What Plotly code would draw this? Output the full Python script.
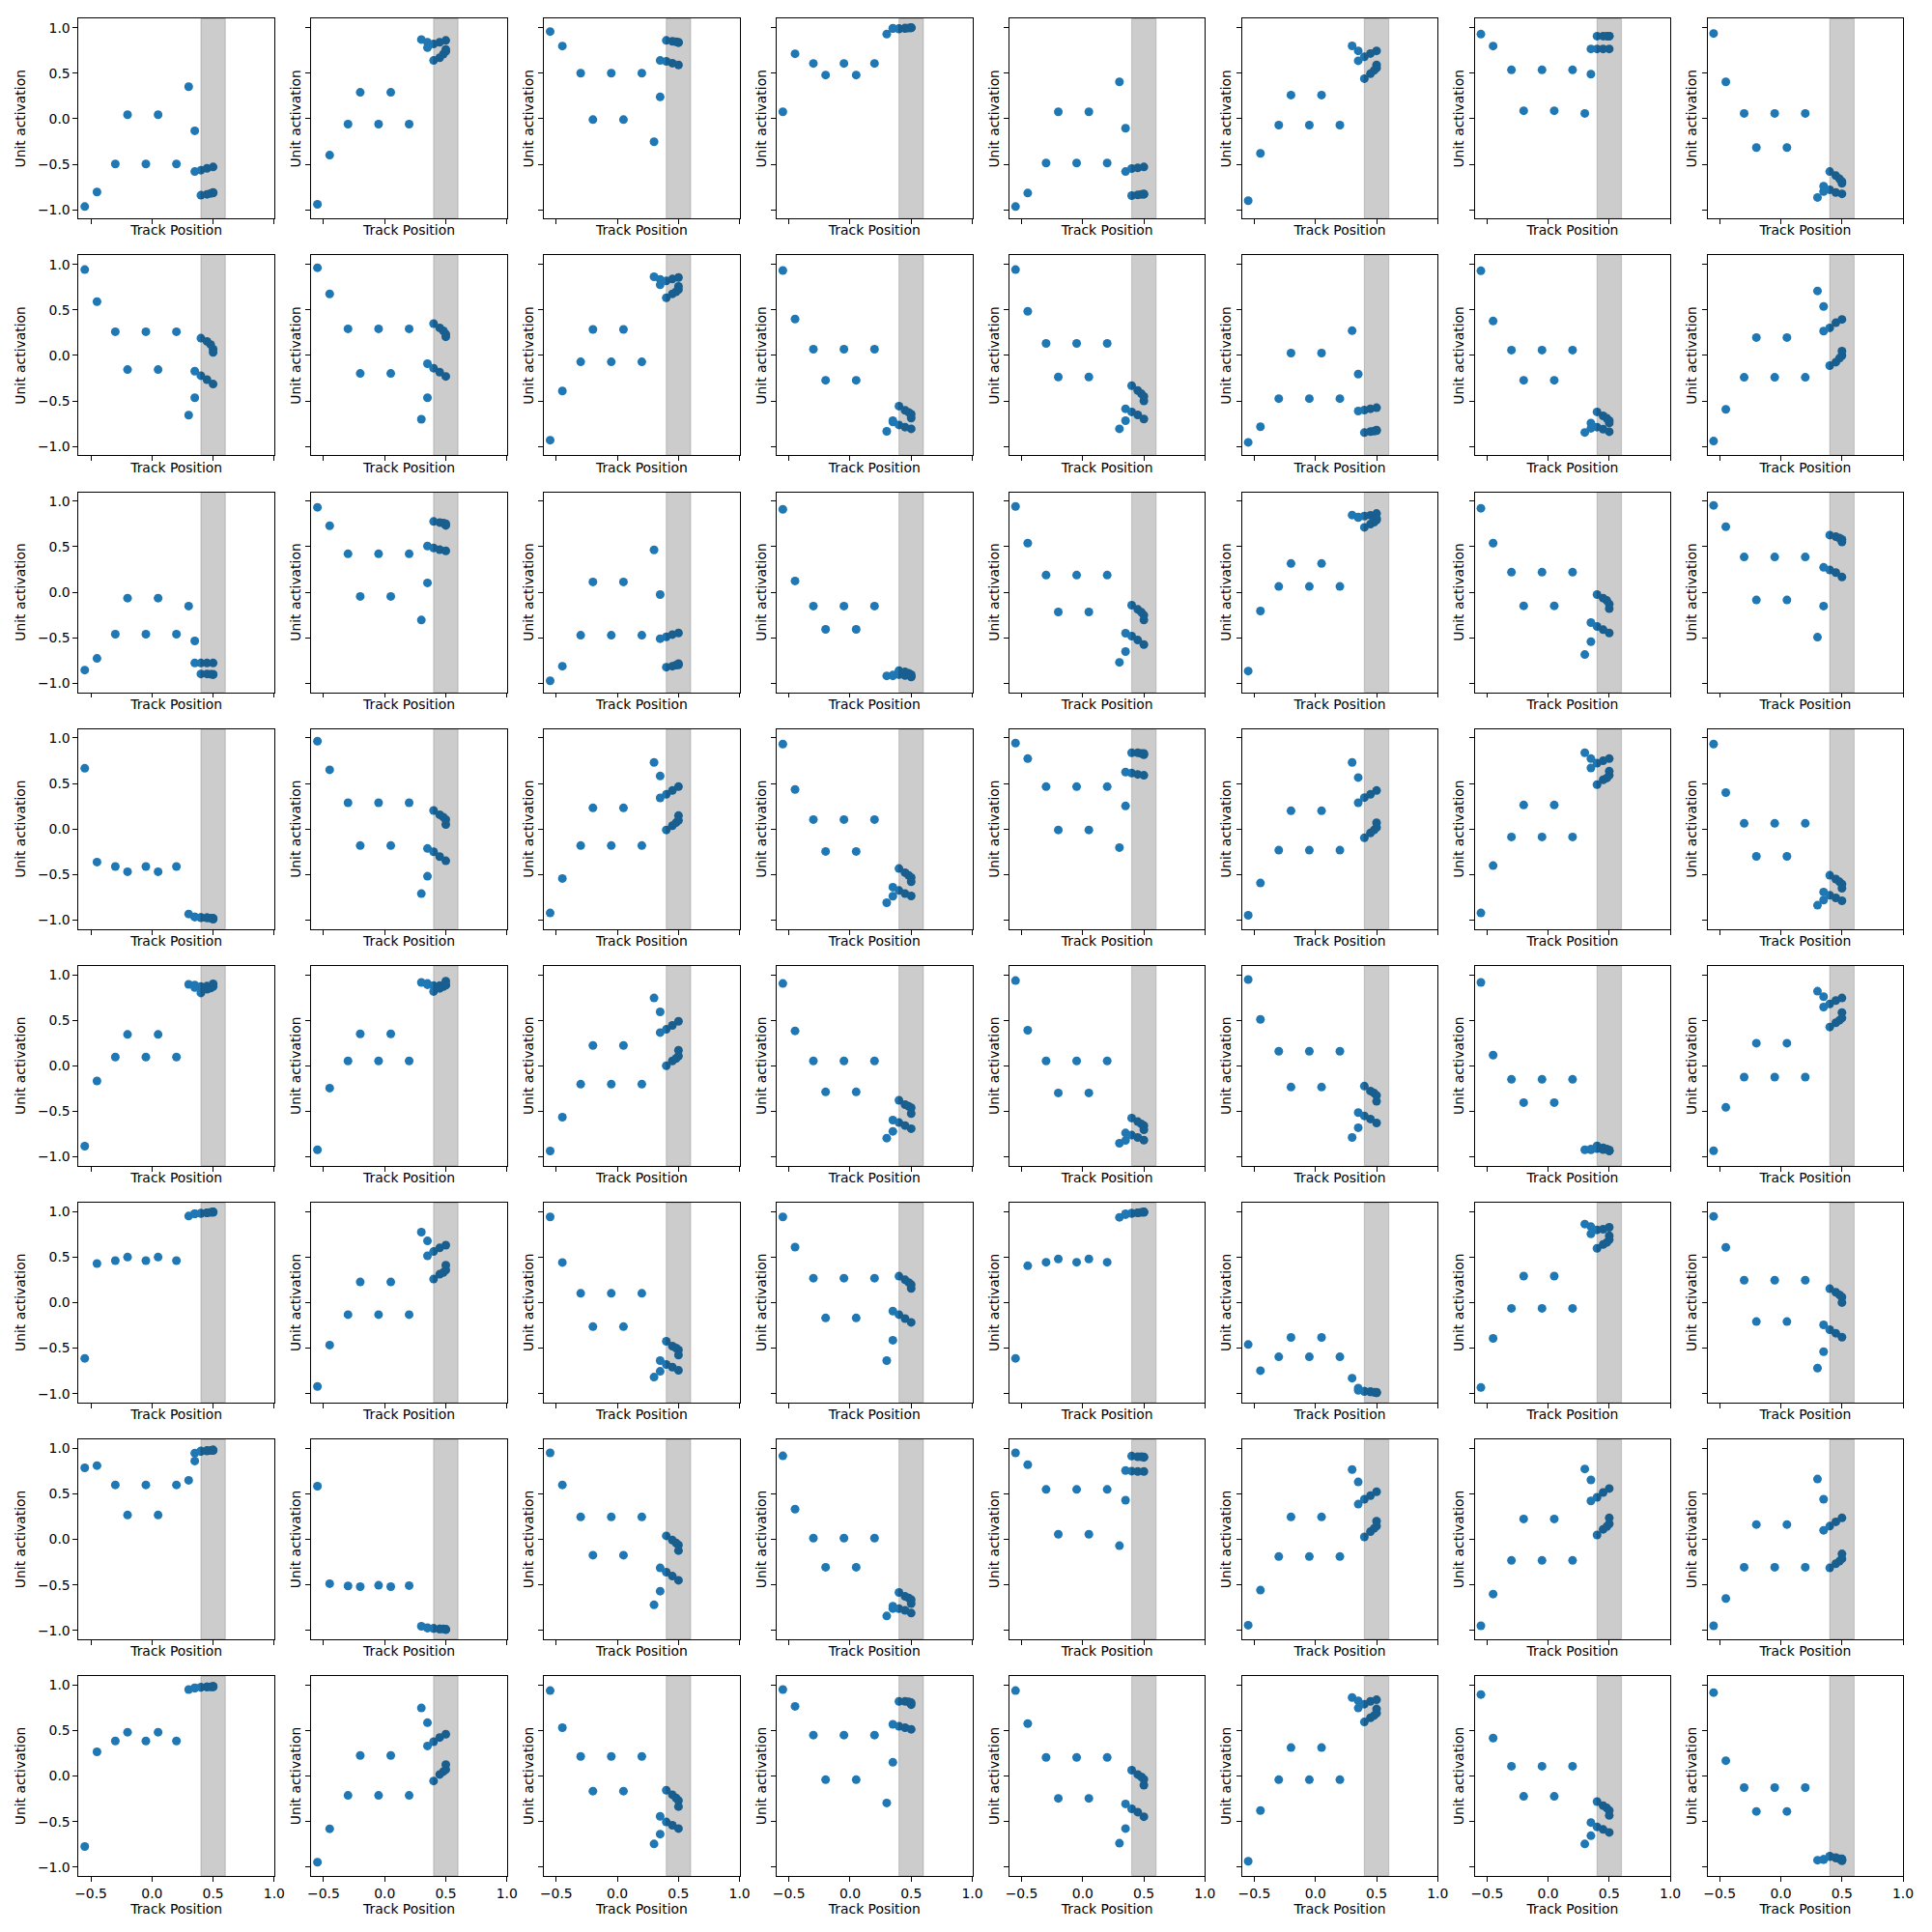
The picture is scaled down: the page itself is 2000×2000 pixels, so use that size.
import plotly.graph_objects as go

# ---------------- data ----------------
track_position = [-0.55, -0.45, -0.30, -0.20, -0.05, 0.05, 0.20, 0.30, 0.35,
                  0.35, 0.40, 0.45, 0.50, 0.40, 0.45, 0.48, 0.50, 0.50]
x_ticks = [-0.5, 0.0, 0.5, 1.0]
x_tick_labels = ["\u22120.5", "0.0", "0.5", "1.0"]
y_ticks = [-1.0, -0.5, 0.0, 0.5, 1.0]
y_tick_labels = ["\u22121.0", "\u22120.5", "0.0", "0.5", "1.0"]
target_zone = [0.4, 0.6]

unit_00 = [-0.965, -0.805, -0.497, 0.044, -0.497, 0.044, -0.497, 0.352, -0.133, -0.58, -0.565, -0.545, -0.53, -0.84, -0.83, -0.82, -0.815, -0.81]
unit_01 = [-0.94, -0.40, -0.06, 0.29, -0.06, 0.29, -0.06, 0.87, 0.84, 0.78, 0.82, 0.84, 0.86, 0.64, 0.67, 0.71, 0.74, 0.76]
unit_02 = [0.957, 0.798, 0.50, -0.01, 0.50, -0.01, 0.50, -0.253, 0.239, 0.64, 0.63, 0.61, 0.59, 0.86, 0.85, 0.845, 0.84, 0.835]
unit_03 = [0.076, 0.713, 0.607, 0.48, 0.607, 0.48, 0.607, 0.929, 0.993, 0.99, 0.99, 0.995, 1.0, 0.985, 0.99, 0.995, 1.0, 0.998]
unit_04 = [-0.965, -0.816, -0.487, 0.076, -0.487, 0.076, -0.487, 0.405, -0.104, -0.58, -0.547, -0.54, -0.53, -0.844, -0.837, -0.83, -0.83, -0.826]
unit_05 = [-0.90, -0.38, -0.07, 0.26, -0.07, 0.26, -0.07, 0.80, 0.745, 0.636, 0.68, 0.716, 0.745, 0.44, 0.494, 0.53, 0.557, 0.59]
unit_06 = [0.929, 0.798, 0.536, 0.087, 0.536, 0.087, 0.536, 0.058, 0.49, 0.766, 0.766, 0.766, 0.766, 0.907, 0.907, 0.907, 0.907, 0.907]
unit_07 = [0.936, 0.405, 0.058, -0.317, 0.058, -0.317, 0.058, -0.865, -0.74, -0.80, -0.78, -0.81, -0.825, -0.58, -0.625, -0.66, -0.69, -0.71]

unit_10 = [0.943, 0.591, 0.261, -0.155, 0.261, -0.155, 0.261, -0.655, -0.464, -0.172, -0.222, -0.265, -0.314, 0.19, 0.155, 0.12, 0.07, 0.035]
unit_11 = [0.964, 0.676, 0.293, -0.197, 0.293, -0.197, 0.293, -0.70, -0.464, -0.09, -0.14, -0.183, -0.23, 0.35, 0.303, 0.27, 0.235, 0.205]
unit_12 = [-0.93, -0.39, -0.07, 0.286, -0.07, 0.286, -0.07, 0.865, 0.836, 0.776, 0.82, 0.84, 0.857, 0.634, 0.677, 0.70, 0.723, 0.758]
unit_13 = [0.933, 0.40, 0.069, -0.272, 0.069, -0.272, 0.069, -0.833, -0.716, -0.73, -0.763, -0.787, -0.805, -0.556, -0.602, -0.625, -0.645, -0.687]
unit_14 = [0.943, 0.485, 0.133, -0.236, 0.133, -0.236, 0.133, -0.805, -0.716, -0.585, -0.62, -0.652, -0.698, -0.332, -0.385, -0.42, -0.45, -0.499]
unit_15 = [-0.954, -0.783, -0.474, 0.027, -0.474, 0.027, -0.474, 0.272, -0.204, -0.61, -0.60, -0.585, -0.574, -0.847, -0.836, -0.83, -0.826, -0.82]
unit_16 = [0.93, 0.378, 0.059, -0.272, 0.059, -0.272, 0.059, -0.845, -0.742, -0.80, -0.787, -0.81, -0.837, -0.62, -0.663, -0.69, -0.716, -0.742]
unit_17 = [-0.94, -0.592, -0.24, 0.197, -0.24, 0.197, -0.24, 0.709, 0.538, 0.268, 0.303, 0.36, 0.396, -0.112, -0.073, -0.03, 0.0, 0.048]

unit_20 = [-0.855, -0.727, -0.461, -0.064, -0.461, -0.064, -0.461, -0.152, -0.535, -0.777, -0.777, -0.777, -0.777, -0.897, -0.897, -0.90, -0.90, -0.905]
unit_21 = [0.933, 0.73, 0.422, -0.046, 0.422, -0.046, 0.422, -0.305, 0.103, 0.507, 0.486, 0.468, 0.454, 0.777, 0.766, 0.76, 0.752, 0.734]
unit_22 = [-0.972, -0.812, -0.472, 0.113, -0.472, 0.113, -0.472, 0.465, -0.025, -0.51, -0.49, -0.465, -0.447, -0.823, -0.812, -0.80, -0.798, -0.784]
unit_23 = [0.911, 0.124, -0.152, -0.408, -0.152, -0.408, -0.152, -0.918, -0.918, -0.91, -0.905, -0.915, -0.925, -0.86, -0.875, -0.89, -0.905, -0.93]
unit_24 = [0.943, 0.539, 0.188, -0.216, 0.188, -0.216, 0.188, -0.77, -0.652, -0.45, -0.482, -0.525, -0.574, -0.142, -0.188, -0.22, -0.252, -0.305]
unit_25 = [-0.865, -0.206, 0.064, 0.316, 0.064, 0.316, 0.064, 0.848, 0.826, 0.82, 0.836, 0.845, 0.865, 0.713, 0.748, 0.77, 0.794, 0.81]
unit_26 = [0.922, 0.539, 0.22, -0.149, 0.22, -0.149, 0.22, -0.684, -0.543, -0.333, -0.376, -0.411, -0.447, -0.025, -0.064, -0.09, -0.13, -0.18]
unit_27 = [0.954, 0.72, 0.387, -0.085, 0.387, -0.085, 0.387, -0.493, -0.152, 0.273, 0.245, 0.216, 0.167, 0.628, 0.61, 0.595, 0.58, 0.553]

unit_30 = [0.667, -0.363, -0.412, -0.469, -0.412, -0.469, -0.412, -0.933, -0.965, -0.965, -0.97, -0.975, -0.98, -0.975, -0.975, -0.98, -0.985, -0.99]
unit_31 = [0.965, 0.65, 0.288, -0.182, 0.288, -0.182, 0.288, -0.71, -0.519, -0.214, -0.25, -0.303, -0.349, 0.204, 0.157, 0.13, 0.104, 0.05]
unit_32 = [-0.922, -0.543, -0.182, 0.232, -0.182, 0.232, -0.182, 0.731, 0.582, 0.342, 0.38, 0.423, 0.465, -0.01, 0.037, 0.07, 0.094, 0.147]
unit_33 = [0.933, 0.434, 0.104, -0.246, 0.104, -0.246, 0.104, -0.809, -0.738, -0.639, -0.675, -0.71, -0.735, -0.434, -0.48, -0.51, -0.533, -0.579]
unit_34 = [0.943, 0.773, 0.465, -0.01, 0.465, -0.01, 0.465, -0.204, 0.253, 0.625, 0.614, 0.60, 0.59, 0.837, 0.837, 0.83, 0.83, 0.816]
unit_35 = [-0.947, -0.593, -0.232, 0.2, -0.232, 0.2, -0.232, 0.731, 0.565, 0.288, 0.345, 0.38, 0.423, -0.097, -0.044, -0.01, 0.016, 0.069]
unit_36 = [-0.922, -0.402, -0.087, 0.264, -0.087, 0.264, -0.087, 0.837, 0.773, 0.67, 0.724, 0.749, 0.773, 0.487, 0.54, 0.56, 0.59, 0.635]
unit_37 = [0.933, 0.40, 0.062, -0.3, 0.062, -0.3, 0.062, -0.837, -0.78, -0.692, -0.727, -0.756, -0.788, -0.508, -0.55, -0.58, -0.604, -0.65]

unit_40 = [-0.883, -0.167, 0.096, 0.344, 0.096, 0.344, 0.096, 0.894, 0.887, 0.86, 0.87, 0.875, 0.885, 0.80, 0.84, 0.855, 0.87, 0.90]
unit_41 = [-0.922, -0.245, 0.053, 0.351, 0.053, 0.351, 0.053, 0.915, 0.904, 0.89, 0.88, 0.88, 0.885, 0.816, 0.85, 0.87, 0.887, 0.93]
unit_42 = [-0.936, -0.564, -0.202, 0.223, -0.202, 0.223, -0.202, 0.745, 0.592, 0.365, 0.40, 0.443, 0.489, 0.0, 0.053, 0.08, 0.106, 0.17]
unit_43 = [0.904, 0.383, 0.053, -0.287, 0.053, -0.287, 0.053, -0.794, -0.72, -0.596, -0.624, -0.656, -0.691, -0.379, -0.426, -0.445, -0.461, -0.525]
unit_44 = [0.936, 0.39, 0.053, -0.298, 0.053, -0.298, 0.053, -0.851, -0.82, -0.738, -0.762, -0.787, -0.816, -0.574, -0.613, -0.64, -0.656, -0.702]
unit_45 = [0.947, 0.51, 0.16, -0.234, 0.16, -0.234, 0.16, -0.787, -0.68, -0.514, -0.55, -0.585, -0.628, -0.223, -0.277, -0.30, -0.326, -0.39]
unit_46 = [0.915, 0.117, -0.149, -0.404, -0.149, -0.404, -0.149, -0.922, -0.922, -0.915, -0.91, -0.92, -0.935, -0.88, -0.90, -0.915, -0.925, -0.935]
unit_47 = [-0.933, -0.457, -0.124, 0.248, -0.124, 0.248, -0.124, 0.819, 0.759, 0.645, 0.68, 0.716, 0.745, 0.426, 0.472, 0.50, 0.525, 0.585]

unit_50 = [-0.613, 0.428, 0.46, 0.499, 0.46, 0.499, 0.46, 0.95, 0.975, 0.975, 0.98, 0.985, 0.99, 0.98, 0.985, 0.99, 0.995, 0.995]
unit_51 = [-0.922, -0.467, -0.133, 0.226, -0.133, 0.226, -0.133, 0.773, 0.677, 0.513, 0.56, 0.60, 0.63, 0.258, 0.311, 0.33, 0.357, 0.41]
unit_52 = [0.94, 0.44, 0.101, -0.265, 0.101, -0.265, 0.101, -0.819, -0.755, -0.638, -0.68, -0.709, -0.745, -0.425, -0.478, -0.50, -0.52, -0.577]
unit_53 = [0.94, 0.609, 0.268, -0.169, 0.268, -0.169, 0.268, -0.638, -0.414, -0.094, -0.133, -0.176, -0.218, 0.29, 0.25, 0.22, 0.197, 0.155]
unit_54 = [-0.613, 0.404, 0.443, 0.479, 0.443, 0.479, 0.443, 0.936, 0.965, 0.975, 0.98, 0.985, 0.99, 0.98, 0.985, 0.99, 0.995, 0.995]
unit_55 = [-0.461, -0.748, -0.596, -0.383, -0.596, -0.383, -0.596, -0.83, -0.94, -0.965, -0.975, -0.98, -0.985, -0.975, -0.98, -0.985, -0.99, -0.99]
unit_56 = [-0.933, -0.394, -0.064, 0.291, -0.064, 0.291, -0.064, 0.862, 0.833, 0.755, 0.798, 0.805, 0.826, 0.596, 0.638, 0.66, 0.69, 0.734]
unit_57 = [0.947, 0.606, 0.245, -0.209, 0.245, -0.209, 0.245, -0.72, -0.539, -0.245, -0.298, -0.337, -0.38, 0.152, 0.113, 0.085, 0.06, 0.0]

unit_60 = [0.785, 0.81, 0.598, 0.267, 0.598, 0.267, 0.598, 0.648, 0.86, 0.946, 0.965, 0.97, 0.975, 0.97, 0.975, 0.975, 0.98, 0.98]
unit_61 = [0.583, -0.487, -0.512, -0.52, -0.505, -0.52, -0.508, -0.955, -0.97, -0.975, -0.98, -0.985, -0.99, -0.98, -0.985, -0.985, -0.99, -0.99]
unit_62 = [0.95, 0.598, 0.246, -0.174, 0.246, -0.174, 0.246, -0.72, -0.569, -0.314, -0.361, -0.404, -0.45, 0.038, -0.009, -0.04, -0.063, -0.124]
unit_63 = [0.917, 0.332, 0.013, -0.307, 0.013, -0.307, 0.013, -0.842, -0.734, -0.76, -0.761, -0.78, -0.81, -0.583, -0.627, -0.645, -0.663, -0.706]
unit_64 = [0.95, 0.82, 0.548, 0.056, 0.548, 0.056, 0.548, -0.07, 0.43, 0.756, 0.749, 0.745, 0.745, 0.914, 0.907, 0.907, 0.905, 0.90]
unit_65 = [-0.943, -0.558, -0.189, 0.246, -0.189, 0.246, -0.189, 0.767, 0.63, 0.386, 0.44, 0.479, 0.522, 0.027, 0.084, 0.12, 0.145, 0.199]
unit_66 = [-0.95, -0.601, -0.232, 0.224, -0.232, 0.224, -0.232, 0.773, 0.652, 0.422, 0.461, 0.515, 0.558, 0.048, 0.11, 0.14, 0.17, 0.235]
unit_67 = [-0.95, -0.65, -0.307, 0.163, -0.307, 0.163, -0.307, 0.662, 0.44, 0.099, 0.145, 0.192, 0.235, -0.314, -0.268, -0.24, -0.214, -0.16]

unit_70 = [-0.773, 0.266, 0.385, 0.482, 0.385, 0.482, 0.385, 0.95, 0.965, 0.97, 0.975, 0.98, 0.98, 0.975, 0.98, 0.98, 0.985, 0.985]
unit_71 = [-0.946, -0.579, -0.212, 0.227, -0.212, 0.227, -0.212, 0.748, 0.586, 0.331, 0.378, 0.424, 0.46, -0.054, 0.018, 0.05, 0.072, 0.126]
unit_72 = [0.939, 0.532, 0.216, -0.165, 0.216, -0.165, 0.216, -0.745, -0.637, -0.442, -0.504, -0.54, -0.576, -0.155, -0.205, -0.24, -0.27, -0.335]
unit_73 = [0.95, 0.766, 0.45, -0.04, 0.45, -0.04, 0.45, -0.295, 0.151, 0.568, 0.547, 0.532, 0.514, 0.82, 0.82, 0.815, 0.806, 0.784]
unit_74 = [0.939, 0.576, 0.205, -0.245, 0.205, -0.245, 0.205, -0.737, -0.576, -0.306, -0.36, -0.396, -0.446, 0.065, 0.018, -0.01, -0.036, -0.1]
unit_75 = [-0.935, -0.378, -0.04, 0.313, -0.04, 0.313, -0.04, 0.863, 0.748, 0.827, 0.79, 0.82, 0.838, 0.594, 0.64, 0.665, 0.69, 0.737]
unit_76 = [0.896, 0.417, 0.108, -0.223, 0.108, -0.223, 0.108, -0.745, -0.655, -0.51, -0.558, -0.586, -0.619, -0.28, -0.324, -0.35, -0.378, -0.432]
unit_77 = [0.917, 0.169, -0.126, -0.388, -0.126, -0.388, -0.126, -0.924, -0.917, -0.915, -0.885, -0.895, -0.91, -0.88, -0.90, -0.91, -0.92, -0.93]

units = [
    unit_00, unit_01, unit_02, unit_03, unit_04, unit_05, unit_06, unit_07,
    unit_10, unit_11, unit_12, unit_13, unit_14, unit_15, unit_16, unit_17,
    unit_20, unit_21, unit_22, unit_23, unit_24, unit_25, unit_26, unit_27,
    unit_30, unit_31, unit_32, unit_33, unit_34, unit_35, unit_36, unit_37,
    unit_40, unit_41, unit_42, unit_43, unit_44, unit_45, unit_46, unit_47,
    unit_50, unit_51, unit_52, unit_53, unit_54, unit_55, unit_56, unit_57,
    unit_60, unit_61, unit_62, unit_63, unit_64, unit_65, unit_66, unit_67,
    unit_70, unit_71, unit_72, unit_73, unit_74, unit_75, unit_76, unit_77,
]

# ---------------- figure ----------------
W = H = 2000
FONT = dict(family="DejaVu Sans", size=13.9, color="black")
NROWS = NCOLS = 8
LEFT0, COL_PITCH, AX_W = 78.0, 242.7, 204.0
TOP0, ROW_PITCH, AX_H = 19.3, 245.1, 207.0

fig = go.Figure()
layout = {}
shapes = []

for k, ys in enumerate(units):
    r, c = divmod(k, NCOLS)
    n = k + 1
    sfx = "" if n == 1 else str(n)
    fig.add_trace(go.Scatter(
        x=track_position, y=ys, mode="markers",
        marker=dict(color="#1f77b4", size=9, line=dict(width=0)),
        xaxis="x" + sfx, yaxis="y" + sfx, showlegend=False, hoverinfo="skip",
    ))
    left = LEFT0 + COL_PITCH * c
    top = TOP0 + ROW_PITCH * r
    xdom = [left / W, (left + AX_W) / W]
    ydom = [1 - (top + AX_H) / H, 1 - top / H]
    common = dict(
        ticks="outside", ticklen=4.9, tickwidth=1.1, tickcolor="black",
        showline=True, mirror=True, linecolor="black", linewidth=1.1,
        showgrid=False, zeroline=False, tickfont=FONT, fixedrange=True,
    )
    layout["xaxis" + sfx] = dict(
        domain=xdom, anchor="y" + sfx, range=[-0.6, 1.0],
        tickmode="array", tickvals=x_ticks, ticktext=x_tick_labels,
        showticklabels=(r == NROWS - 1),
        title=dict(text="Track Position", font=FONT, standoff=2),
        **common,
    )
    layout["yaxis" + sfx] = dict(
        domain=ydom, anchor="x" + sfx, range=[-1.097, 1.099],
        tickmode="array", tickvals=y_ticks, ticktext=y_tick_labels,
        showticklabels=(c == 0),
        title=dict(text="Unit activation", font=FONT, standoff=(9 if c == 0 else 1)),
        **common,
    )
    shapes.append(dict(
        type="rect", xref="x" + sfx, yref="y" + sfx + " domain",
        x0=target_zone[0], x1=target_zone[1], y0=0, y1=1,
        fillcolor="rgba(0,0,0,0.2)", line=dict(color="rgba(0,0,0,0.15)", width=1.2),
        layer="above",
    ))

fig.update_layout(
    width=W, height=H,
    margin=dict(l=0, r=0, t=0, b=0),
    paper_bgcolor="white", plot_bgcolor="white",
    font=FONT, shapes=shapes, showlegend=False,
    **layout,
)

fig.write_html("out.html")
